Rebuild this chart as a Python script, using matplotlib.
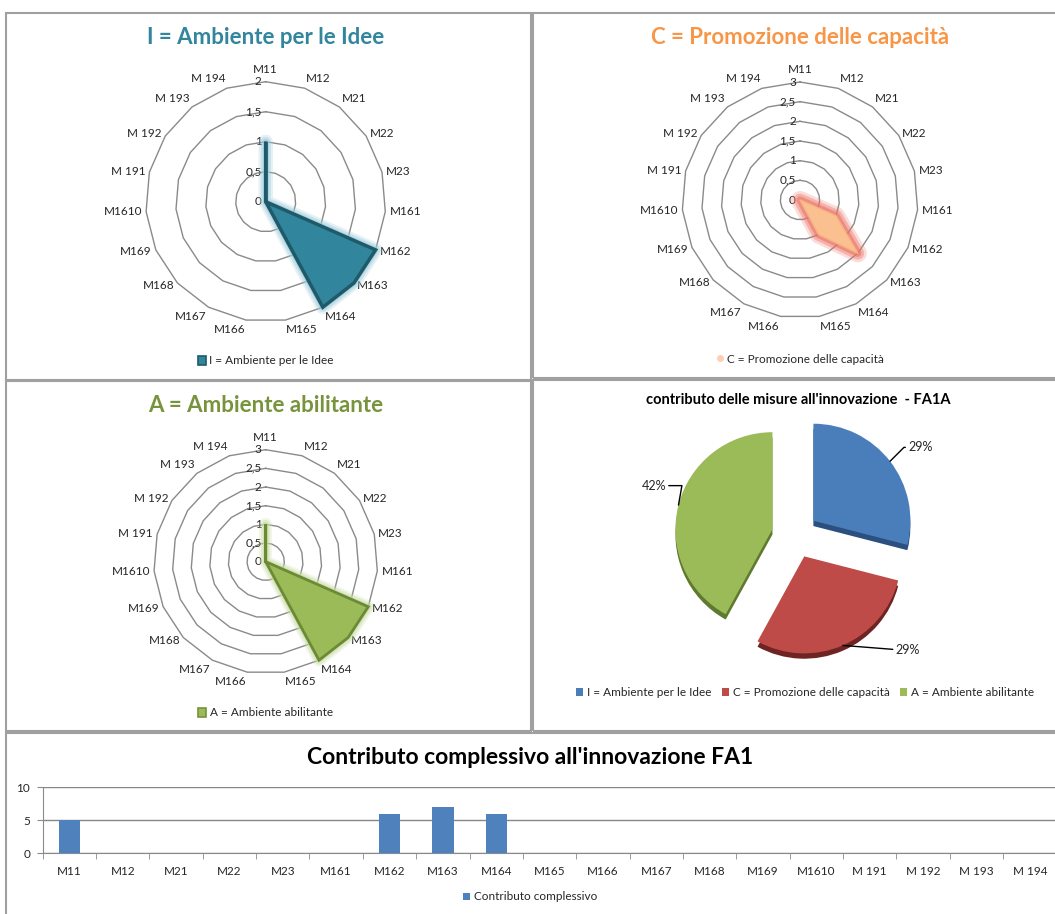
import numpy as np
import matplotlib
matplotlib.use('Agg')
import matplotlib.pyplot as plt
import matplotlib.patheffects as pe
from matplotlib.patches import Rectangle, Patch
from matplotlib.lines import Line2D

plt.rcParams['font.family'] = ['Lato', 'DejaVu Sans']

# ---------------- data ----------------
categories = ['M11', 'M12', 'M21', 'M22', 'M23', 'M161', 'M162', 'M163', 'M164',
              'M165', 'M166', 'M167', 'M168', 'M169', 'M1610', 'M 191', 'M 192',
              'M 193', 'M 194']
values_I = [1, 0, 0, 0, 0, 0, 2, 2, 2, 0, 0, 0, 0, 0, 0, 0, 0, 0, 0]
values_C = [0, 0, 0, 0, 0, 0, 1, 2, 1, 0, 0, 0, 0, 0, 0, 0, 0, 0, 0]
values_A = [1, 0, 0, 0, 0, 0, 3, 3, 3, 0, 0, 0, 0, 0, 0, 0, 0, 0, 0]
bar_values = [5, 0, 0, 0, 0, 0, 6, 7, 6, 0, 0, 0, 0, 0, 0, 0, 0, 0, 0]
pie_names = ['I = Ambiente per le Idee', 'C = Promozione delle capacità',
             'A = Ambiente abilitante']
pie_values = [29, 29, 42]
pie_labels = ['29%', '29%', '42%']

W, H = 1055, 914
fig = plt.figure(figsize=(W / 100, H / 100), dpi=100)
TXT = '#262626'
GRID = '#8a8a8a'


def px_axes(cx, cy, r, polar=False):
    return fig.add_axes([(cx - r) / W, 1 - (cy + r) / H, 2 * r / W, 2 * r / H],
                        projection='polar' if polar else None)


def radar(cx, cy, r, values, rmax, title, tcolor, ty, face, edge, glow, glow_w,
          edge_w, legend_y, legend_label, legend_handle, join='miter'):
    ax = px_axes(cx, cy, r, polar=True)
    ax.set_theta_zero_location('N')
    ax.set_theta_direction(-1)
    ax.set_ylim(0, rmax)
    ax.grid(False)
    ax.set_xticks([])
    ax.set_yticks([])
    ax.spines['polar'].set_visible(False)
    ax.patch.set_visible(False)
    n = len(categories)
    ang = np.linspace(0, 2 * np.pi, n, endpoint=False)
    angc = np.append(ang, ang[0])
    for lv in np.arange(0.5, rmax + 0.01, 0.5):
        ax.plot(angc, [lv] * (n + 1), color=GRID, lw=1.0, zorder=1, clip_on=False)
    for lv in np.arange(0, rmax + 0.01, 0.5):
        s = ('%g' % lv).replace('.', ',')
        ax.annotate(s, xy=(0, lv), xytext=(-3, 0), textcoords='offset points',
                    ha='right', va='center', fontsize=8.5, color=TXT,
                    annotation_clip=False, zorder=3)
    vals = np.append(values, values[0])
    poly = ax.fill(angc, vals, facecolor=face, edgecolor=edge, lw=edge_w,
                   zorder=4, clip_on=False, joinstyle=join)[0]
    poly.set_path_effects([
        pe.Stroke(linewidth=glow_w, foreground=glow, alpha=0.25, joinstyle='round'),
        pe.Stroke(linewidth=glow_w * 0.7, foreground=glow, alpha=0.4, joinstyle='round'),
        pe.Stroke(linewidth=glow_w * 0.4, foreground=glow, alpha=0.6, joinstyle='round'),
        pe.Normal()])
    for a, lab in zip(ang, categories):
        s, c = np.sin(a), np.cos(a)
        ha = 'left' if s > 0.05 else ('right' if s < -0.05 else 'center')
        va = 'bottom' if c > 0.7 else ('top' if c < -0.7 else 'center')
        d = 5.0 if c > 0.95 else 3.0
        ax.annotate(lab, xy=(a, rmax), xytext=(d * s, d * c),
                    textcoords='offset points', ha=ha, va=va, fontsize=8.5,
                    color=TXT, annotation_clip=False)
    fig.text(cx / W, 1 - ty / H, title, ha='center', va='center', fontsize=16,
             fontweight='bold', color=tcolor)
    ax.legend([legend_handle], [legend_label], loc='center',
              bbox_to_anchor=(cx / W, 1 - legend_y / H),
              bbox_transform=fig.transFigure, frameon=False, handlelength=0.7,
              handleheight=0.7, handletextpad=0.3, fontsize=8.5, labelcolor=TXT)
    return ax


# ---------------- radar charts ----------------
radar(265.7, 201.7, 120, values_I, 2, 'I = Ambiente per le Idee', '#31859C', 38,
      '#31859C', '#1F5A6A', '#9CCBDA', 10, 2.5, 361, pie_names[0],
      Patch(facecolor='#31859C', edgecolor='#1F5A6A', lw=1.2))
radar(800, 200, 118, values_C, 3, 'C = Promozione delle capacità', '#F79646', 38,
      '#FAC08F', '#F9B482', '#EC7468', 13, 1.0, 359, pie_names[1],
      Line2D([], [], ls='none', marker='o', markersize=4, color='#FBD0B5'),
      join='round')
radar(265.7, 561.7, 112, values_A, 3, 'A = Ambiente abilitante', '#77933C', 405,
      '#9BBB59', '#6B8A35', '#C9DCA5', 9, 2.0, 713, pie_names[2],
      Patch(facecolor='#9BBB59', edgecolor='#77933C', lw=1.2))

# ---------------- pie chart ----------------
pie_colors = ['#4A7EBB', '#BE4B48', '#9BBB59']
pie_dark = ['#2B4F7E', '#6E2422', '#5E7A2E']
axp = px_axes(795, 535, 130)
axp.pie(pie_values, colors=pie_dark, startangle=90, counterclock=False,
        explode=[0.24] * 3, center=(0.0, -0.055), wedgeprops=dict(edgecolor='none'))
wedges, _ = axp.pie(pie_values, colors=pie_colors, startangle=90, counterclock=False,
                    explode=[0.24] * 3, wedgeprops=dict(edgecolor='none'))
axp.set_xlim(-1.34, 1.34)
axp.set_ylim(-1.34, 1.34)
axp.set_aspect('equal')
label_style = [((13, 10), 'left', 'angle,angleA=0,angleB=45,rad=0'),
               ((38, -3), 'left', 'arc3'),
               ((-9, 14), 'right', 'angle,angleA=0,angleB=80,rad=0')]
for w, lab, (off, ha, cs) in zip(wedges, pie_labels, label_style):
    mid = np.deg2rad((w.theta1 + w.theta2) / 2)
    cx, cy = w.center
    ex, ey = cx + w.r * np.cos(mid), cy + w.r * np.sin(mid)
    axp.annotate(lab, xy=(ex, ey), xytext=off, textcoords='offset points', ha=ha,
                 va='center', fontsize=9, color=TXT, annotation_clip=False,
                 arrowprops=dict(arrowstyle='-', color='black', lw=1.0,
                                 connectionstyle=cs, shrinkA=0, shrinkB=0,
                                 relpos=(0, 0.5) if ha == 'left' else (1, 0.5)))
fig.text(798 / W, 1 - 400 / H, "contributo delle misure all'innovazione  - FA1A",
         ha='center', va='center', fontsize=10.5, fontweight='bold', color='black')
axp.legend(wedges, pie_names, loc='center', ncol=3,
           bbox_to_anchor=(805 / W, 1 - 692.7 / H), bbox_transform=fig.transFigure,
           frameon=False, handlelength=0.6, handleheight=0.6, handletextpad=0.3,
           columnspacing=0.9, fontsize=8.5, labelcolor=TXT)

# ---------------- bar chart ----------------
axb = fig.add_axes([42.7 / W, 1 - 853.3 / H, (1056.5 - 42.7) / W, 66 / H])
n = len(categories)
x = np.arange(n)
bars = axb.bar(x, bar_values, width=0.4, color='#4F81BD', zorder=3,
               label='Contributo complessivo')
axb.set_xlim(-0.5, n - 0.5)
axb.set_ylim(0, 10)
axb.set_yticks([0, 5, 10])
axb.set_xticks(x)
axb.set_xticklabels(categories)
axb.set_xticks(np.arange(-0.5, n, 1.0), minor=True)
axb.tick_params(axis='x', which='major', length=0, pad=9, labelsize=8.5, labelcolor=TXT)
axb.tick_params(axis='x', which='minor', length=4, direction='out', color=GRID)
axb.tick_params(axis='y', length=4, direction='out', color=GRID, labelsize=8.5,
                labelcolor=TXT, pad=5)
axb.yaxis.grid(True, color='#868686', lw=1.0)
axb.set_axisbelow(True)
for sp in ['top', 'right']:
    axb.spines[sp].set_visible(False)
for sp in ['left', 'bottom']:
    axb.spines[sp].set_color(GRID)
fig.text(530 / W, 1 - 757 / H, "Contributo complessivo all'innovazione FA1",
         ha='center', va='center', fontsize=16.5, fontweight='bold', color='black')
axb.legend(loc='center', bbox_to_anchor=(530 / W, 1 - 897 / H),
           bbox_transform=fig.transFigure, frameon=False, handlelength=0.6,
           handleheight=0.6, handletextpad=0.3, fontsize=8.5, labelcolor=TXT)

# ---------------- panel borders ----------------
for (x0, y0, x1, y1) in [(6, 13, 531, 380), (533, 13, 1058, 378),
                         (6, 381, 531, 731), (533, 380, 1058, 731),
                         (6, 733, 1058, 916)]:
    fig.add_artist(Rectangle((x0 / W, 1 - y1 / H), (x1 - x0) / W, (y1 - y0) / H,
                             transform=fig.transFigure, fill=False,
                             edgecolor='#A0A0A0', lw=1.5))

fig.savefig('out.png', dpi=100, facecolor='white')
